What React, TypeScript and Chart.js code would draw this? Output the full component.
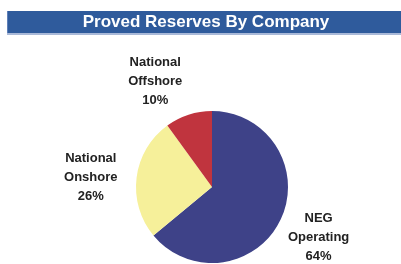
import React, { useEffect, useRef } from "react";
import { Chart, registerables } from "chart.js";

Chart.register(...registerables);

const title = "Proved Reserves By Company";
const categories = ["NEG Operating", "National Onshore", "National Offshore"];
const labelLines = [["NEG", "Operating"], ["National", "Onshore"], ["National", "Offshore"]];
const values = [64, 26, 10];
const colors = ["#3e4288", "#f6f09a", "#c0343e"];
// per-slice label angle adjustment (radians) and distance factor
const labelAngleShift = [0, -0.045, -0.18];
const labelDistance = [1.55, 1.6, 1.575];

const titlePlugin = {
  id: "titleBar",
  beforeDraw(chart: any) {
    const ctx = chart.ctx;
    ctx.save();
    ctx.fillStyle = "#2f5b9c";
    ctx.fillRect(7, 11, chart.width - 7, 22);
    ctx.fillStyle = "#a9b9d8";
    ctx.fillRect(7, 33, chart.width - 7, 2);
    ctx.fillStyle = "#5f80b8";
    ctx.fillRect(7, 11, 1, 22);
    ctx.fillStyle = "#ffffff";
    ctx.font = "bold 17px 'Liberation Sans', Arial, sans-serif";
    ctx.textAlign = "center";
    ctx.textBaseline = "middle";
    ctx.fillText(title, 206, 22.5);
    ctx.restore();
  },
};

const labelPlugin = {
  id: "sliceLabels",
  afterDraw(chart: any) {
    const ctx = chart.ctx;
    const meta = chart.getDatasetMeta(0);
    ctx.save();
    ctx.fillStyle = "#222222";
    ctx.font = "bold 13px 'Liberation Sans', Arial, sans-serif";
    ctx.textAlign = "center";
    ctx.textBaseline = "middle";
    meta.data.forEach((arc: any, i: number) => {
      const p = arc.getProps(["x", "y", "startAngle", "endAngle", "outerRadius"], true);
      const mid = (p.startAngle + p.endAngle) / 2 + labelAngleShift[i];
      const d = p.outerRadius * labelDistance[i];
      const cx = p.x + Math.cos(mid) * d;
      const cy = p.y + Math.sin(mid) * d;
      const lines = [...labelLines[i], values[i] + "%"];
      lines.forEach((ln, k) => {
        ctx.fillText(ln, cx, cy + (k - 1) * 19);
      });
    });
    ctx.restore();
  },
};

export default function App() {
  const ref = useRef<HTMLCanvasElement>(null);
  useEffect(() => {
    document.body.style.margin = "0";
    const chart = new Chart(ref.current!, {
      type: "pie",
      data: {
        labels: categories,
        datasets: [
          {
            data: values,
            backgroundColor: colors,
            borderWidth: 0,
            hoverOffset: 0,
          },
        ],
      },
      options: {
        animation: false,
        responsive: false,
        layout: { padding: { top: 111, bottom: 1, left: 136, right: 113 } },
        plugins: { legend: { display: false }, tooltip: { enabled: false }, title: { display: false } },
      },
      plugins: [titlePlugin, labelPlugin],
    });
    return () => chart.destroy();
  }, []);
  return (
    <div style={{ width: 401, height: 264, background: "#fff" }}>
      <canvas ref={ref} width={401} height={264} />
    </div>
  );
}
